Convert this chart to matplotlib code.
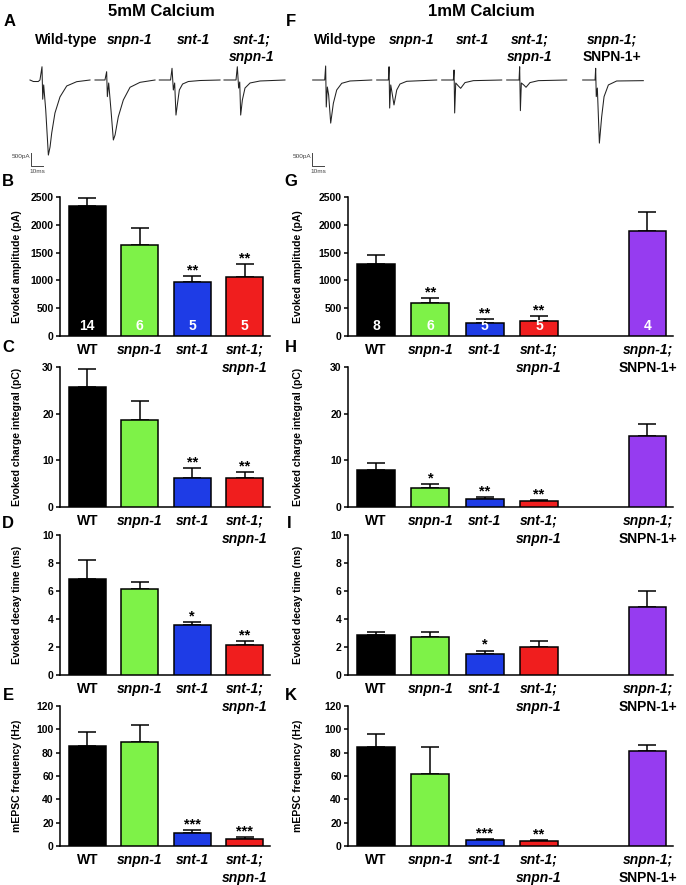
import numpy as np
import matplotlib

matplotlib.use("Agg")
import matplotlib.pyplot as plt

plt.rcParams["font.family"] = ["Liberation Sans", "DejaVu Sans"]
plt.rcParams["font.weight"] = "bold"

W, H = 686, 885

# ---------------- data ----------------
x_5 = [0, 1, 2, 3]
x_1 = [0, 1, 2, 3, 5]
labels_5 = ["WT", "snpn-1", "snt-1", "snt-1;\nsnpn-1"]
labels_1 = ["WT", "snpn-1", "snt-1", "snt-1;\nsnpn-1", "snpn-1;\nSNPN-1+"]
colors_5 = ["#000000", "#7ef248", "#1e3ce6", "#f01e1e"]
colors_1 = ["#000000", "#7ef248", "#1e3ce6", "#f01e1e", "#963cf0"]

n_5 = [14, 6, 5, 5]
n_1 = [8, 6, 5, 5, 4]

amp_5 = [2340, 1645, 965, 1070]
amp_5_err = [140, 300, 120, 225]
amp_1 = [1300, 590, 240, 265, 1880]
amp_1_err = [150, 85, 60, 90, 350]
amp_5_sig = ["", "", "**", "**"]
amp_1_sig = ["", "**", "**", "**", ""]

charge_5 = [25.7, 18.7, 6.3, 6.3]
charge_5_err = [3.8, 4.0, 2.1, 1.2]
charge_1 = [8.0, 4.1, 1.7, 1.3, 15.3]
charge_1_err = [1.4, 0.8, 0.35, 0.25, 2.5]
charge_5_sig = ["", "", "**", "**"]
charge_1_sig = ["", "*", "**", "**", ""]

decay_5 = [6.86, 6.12, 3.57, 2.14]
decay_5_err = [1.35, 0.5, 0.22, 0.26]
decay_1 = [2.87, 2.70, 1.53, 2.03, 4.86]
decay_1_err = [0.22, 0.34, 0.22, 0.39, 1.12]
decay_5_sig = ["", "", "*", "**"]
decay_1_sig = ["", "", "*", "", ""]

freq_5 = [85.7, 89.1, 10.9, 6.0]
freq_5_err = [12.0, 15.0, 2.5, 1.4]
freq_1 = [85.2, 61.6, 4.8, 4.3, 81.5]
freq_1_err = [11.1, 23.6, 1.2, 0.8, 4.9]
freq_5_sig = ["", "", "***", "***"]
freq_1_sig = ["", "", "***", "**", ""]

# example EPSC traces: time (ms) and current (pA), relative to trace start
trace_names_5 = ["Wild-type", "snpn-1", "snt-1", "snt-1;\nsnpn-1"]
trace_names_1 = ["Wild-type", "snpn-1", "snt-1", "snt-1;\nsnpn-1", "snpn-1;\nSNPN-1+"]
traces_5 = [
    ([0, 2.8, 6.9, 8.3, 10, 10.6, 11.4, 13.1, 15.3, 16.7, 18.1, 20.8, 25, 30.6, 38.9, 50],
     [0, -58, -58, 0, 510, -740, -190, -1150, -2890, -2580, -2040, -1270, -650, -230, -65, 0]),
    ([0, 8.3, 9.7, 10.3, 11.4, 13.3, 15.3, 16.7, 19.4, 23.6, 29.2, 37.5, 50],
     [0, 0, 320, -640, -115, -1150, -2310, -2120, -1420, -770, -280, -90, 0]),
    ([0, 9.4, 10.6, 11.7, 12.8, 13.9, 15, 16.7, 19.4, 24.2, 33.9, 50.6],
     [0, 0, 450, -385, -115, -1350, -960, -385, -155, -58, -20, 0]),
    ([0, 10, 11.1, 12.2, 13.1, 13.9, 15.3, 17.5, 21.7, 30, 50.8],
     [0, 0, 510, -310, -77, -1350, -770, -310, -115, -38, 0]),
]
traces_1 = [
    ([0, 10, 10.8, 11.3, 12.2, 13.3, 15, 17.2, 20, 24.2, 31.1, 49.2],
     [0, 0, 540, -1040, -270, -580, -1660, -900, -385, -127, -38, 0]),
    ([0, 9.7, 10.3, 10.8, 11.7, 13.1, 14.4, 16.7, 19.4, 25, 50],
     [0, 0, 510, -1080, -190, -580, -960, -385, -155, -50, 0]),
    ([0, 9.7, 10.3, 10.8, 11.7, 13.9, 15.8, 19.4, 26.4, 50],
     [0, 0, 385, -1270, -115, -230, -320, -100, -25, 0]),
    ([0, 10.3, 10.8, 11.4, 12.2, 14.2, 16.1, 19.4, 26.4, 50],
     [0, 0, 510, -1180, -115, -190, -280, -100, -25, 0]),
    ([0, 10.3, 10.8, 11.3, 12.2, 13.9, 15.8, 17.8, 21.4, 28.3, 50.5],
     [0, 0, 450, -640, -310, -2430, -1420, -640, -190, -38, -25]),
]
scale_pA = 500
scale_ms = 10

# ---------------- layout helpers ----------------
fig = plt.figure(figsize=(W / 100, H / 100), dpi=100)


def fpos(x, y):
    return x / W, 1 - y / H


def add_ax(x0, x1, y0, y1):
    ax = fig.add_axes([x0 / W, 1 - y1 / H, (x1 - x0) / W, (y1 - y0) / H])
    ax.patch.set_visible(False)
    return ax


def ftext(x, y, s, **kw):
    fig.text(*fpos(x, y), s, ha="center", va="center", **kw)


# ---------------- traces ----------------
px_per_ms = 1.2
pa_per_px = 38.5
base_y = 80
tax = add_ax(0, W, 60, 170)
tax.set_xlim(0, W / px_per_ms)
tax.set_ylim((base_y - 170) * pa_per_px, (base_y - 60) * pa_per_px)
tax.axis("off")

starts_5 = [30, 95, 159.3, 224]
starts_1 = [312.7, 376.7, 441.7, 506.7, 582.7]
for starts, traces in ((starts_5, traces_5), (starts_1, traces_1)):
    for s, (t, i) in zip(starts, traces):
        tax.plot(np.array(t) + s / px_per_ms, i, color="#222222", lw=0.75)

for bx in (31, 312):
    x0 = bx / px_per_ms
    y0 = (base_y - 166) * pa_per_px
    tax.plot([x0, x0, x0 + scale_ms], [y0 + scale_pA, y0, y0],
             color="#444444", lw=0.7)
    tax.text(x0 - 0.8, y0 + scale_pA * 0.75, f"{scale_pA}pA", fontsize=4.6,
             fontweight="normal", color="#444444", ha="right", va="center")
    tax.text(x0 + scale_ms / 2, y0 - 110, f"{scale_ms}ms", fontsize=4.6,
             fontweight="normal", color="#444444", ha="center", va="top")

# titles and genotype labels
ftext(161, 11, "5mM Calcium", fontsize=12)
ftext(481, 11, "1mM Calcium", fontsize=12)

name_x_5 = [66, 130, 193, 252]
name_x_1 = [345, 412, 472, 530, 612]
for xs, names in ((name_x_5, trace_names_5), (name_x_1, trace_names_1)):
    for xc, nm in zip(xs, names):
        for k, line in enumerate(nm.split("\n")):
            sty = "normal" if line in ("Wild-type", "SNPN-1+") else "italic"
            ftext(xc, 40 + 17 * k, line, fontsize=10, style=sty)

# panel letters
for s, x, y in [("A", 10, 22), ("F", 291, 22), ("B", 8, 181), ("G", 291, 181),
                ("C", 8, 347), ("H", 291, 347), ("D", 8, 523), ("I", 289, 523),
                ("E", 8, 695), ("K", 291, 695)]:
    ftext(x, y, s, fontsize=12)

# ---------------- bar panels ----------------
rows = [(197, 336), (367, 507), (535, 675), (706, 846)]
panels = [
    (amp_5, amp_5_err, amp_5_sig, amp_1, amp_1_err, amp_1_sig,
     2500, 500, "Evoked amplitude (pA)", True),
    (charge_5, charge_5_err, charge_5_sig, charge_1, charge_1_err, charge_1_sig,
     30, 10, "Evoked charge integral (pC)", False),
    (decay_5, decay_5_err, decay_5_sig, decay_1, decay_1_err, decay_1_sig,
     10, 2, "Evoked decay time (ms)", False),
    (freq_5, freq_5_err, freq_5_sig, freq_1, freq_1_err, freq_1_sig,
     120, 20, "mEPSC frequency (Hz)", False),
]


def draw_panel(ax, x, vals, errs, sig, cols, labels, counts, ymax, step, ylabel,
               xlim, lab_x):
    ax.bar(x, vals, width=0.7, color=cols, edgecolor="black", linewidth=1.1,
           zorder=3)
    ax.errorbar(x, vals, yerr=[np.zeros(len(vals)), errs], fmt="none",
                ecolor="black", elinewidth=1.1, capsize=6.5, capthick=1.1,
                zorder=2)
    for xi, v, e, s in zip(x, vals, errs, sig):
        if s:
            ax.annotate(s, (xi, v + e), xytext=(0, -1), textcoords="offset points",
                        ha="center", va="bottom", fontsize=10.5)
    if counts is not None:
        for xi, c in zip(x, counts):
            ax.annotate(str(c), (xi, 0), xytext=(0, 2), textcoords="offset points",
                        ha="center", va="bottom", fontsize=10, color="white")
    ax.set_xlim(*xlim)
    ax.set_ylim(0, ymax)
    ax.set_yticks(np.arange(0, ymax + step / 2, step))
    ax.set_xticks([])
    ax.tick_params(axis="y", direction="out", length=3, width=1.1, pad=1.5,
                   labelsize=7.5)
    for t in ax.get_yticklabels():
        t.set_fontweight("bold")
    for sp in ("top", "right"):
        ax.spines[sp].set_visible(False)
    for sp in ("left", "bottom"):
        ax.spines[sp].set_linewidth(1.1)
    ax.set_ylabel(ylabel, fontsize=7.5, fontweight="bold")
    ax.yaxis.set_label_coords(lab_x, 0.5)
    for xi, lab in zip(x, labels):
        for k, line in enumerate(lab.split("\n")):
            sty = "normal" if line in ("WT", "SNPN-1+") else "italic"
            ax.annotate(line, (xi, 0), xycoords=("data", "axes fraction"),
                        xytext=(0, -5 - 13 * k), textcoords="offset points",
                        ha="center", va="top", fontsize=10, style=sty,
                        annotation_clip=False)


for (y0, y1), (v5, e5, s5, v1, e1, s1, ymax, step, ylab, show_n) in zip(rows, panels):
    axl = add_ax(60, 270, y0, y1)
    draw_panel(axl, x_5, v5, e5, s5, colors_5, labels_5, n_5 if show_n else None,
               ymax, step, ylab, (-0.52, 3.48), -0.181)
    axr = add_ax(348, 673, y0, y1)
    draw_panel(axr, x_1, v1, e1, s1, colors_1, labels_1, n_1 if show_n else None,
               ymax, step, ylab, (-0.52, 5.47), -0.138)

fig.savefig("out.png", dpi=100)
